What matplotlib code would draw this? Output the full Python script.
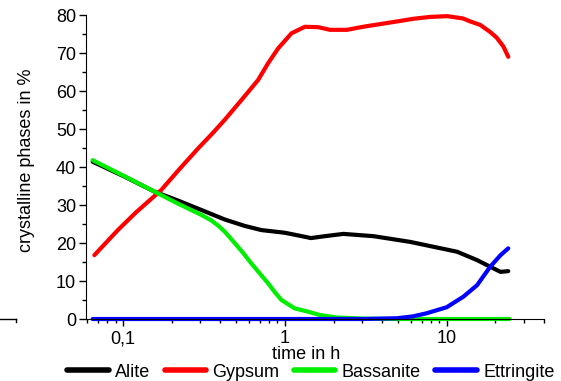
import matplotlib
matplotlib.use("Agg")
import matplotlib.pyplot as plt
from matplotlib.lines import Line2D
from matplotlib.ticker import FixedLocator, FuncFormatter, LogLocator, MultipleLocator

plt.rcParams['font.family'] = ['Liberation Sans', 'DejaVu Sans']
plt.rcParams['font.size'] = 13

# data (time in h, percent)
alite_t = [0.065, 0.102, 0.157, 0.218, 0.305, 0.425, 0.565, 0.717, 1.0, 1.24, 1.45, 1.77, 2.3, 3.53, 5.94, 8.3, 11.6, 15.4, 19.5, 21.5, 24.0]
alite_v = [41.4, 37.5, 33.5, 31.2, 28.7, 26.2, 24.5, 23.4, 22.7, 21.9, 21.3, 21.8, 22.4, 21.8, 20.3, 19.0, 17.7, 15.5, 13.3, 12.4, 12.6]

gyps_t = [0.0666, 0.093, 0.12, 0.172, 0.224, 0.29, 0.36, 0.425, 0.539, 0.684, 0.788, 0.909, 1.1, 1.33, 1.61, 1.9, 2.42, 3.04, 4.92, 6.2, 7.9, 10.07, 12.6, 14.0, 16.1, 18.6, 20.4, 22.4, 24.0]
gyps_v = [16.8, 23.4, 28.0, 33.9, 39.5, 44.8, 49.0, 52.4, 57.6, 62.9, 67.3, 71.2, 75.2, 76.9, 76.8, 76.1, 76.1, 76.9, 78.3, 79.0, 79.5, 79.7, 79.1, 78.3, 77.4, 75.5, 74.0, 71.7, 69.0]

bass_t = [0.065, 0.102, 0.157, 0.218, 0.305, 0.35, 0.387, 0.425, 0.49, 0.55, 0.622, 0.7, 0.788, 0.87, 0.954, 1.15, 1.4, 1.65, 2.09, 3.1, 5.0, 10.0, 24.4]
bass_v = [41.8, 37.6, 33.5, 30.4, 27.4, 26.0, 24.6, 23.0, 20.0, 17.5, 14.6, 12.0, 9.4, 7.0, 5.0, 2.8, 1.9, 1.05, 0.4, 0.1, 0.0, 0.0, 0.0]

ettr_t = [0.065, 1.0, 3.0, 4.92, 6.2, 7.5, 10.0, 12.7, 15.4, 18.6, 21.5, 24.0]
ettr_v = [0.0, 0.0, 0.0, 0.2, 0.7, 1.5, 3.1, 5.9, 8.9, 13.8, 16.8, 18.6]

names = ['Alite', 'Gypsum', 'Bassanite', 'Ettringite']
colors = ['#000000', '#ff0000', '#00ee00', '#0000ff']

fig = plt.figure(figsize=(5.61, 3.81), dpi=100)
ax = fig.add_axes([0.153, 0.1627, 0.817, 0.7979])

series = [(alite_t, alite_v), (gyps_t, gyps_v), (bass_t, bass_v), (ettr_t, ettr_v)]
for (t, v), n, c in zip(series, names, colors):
    ax.plot(t, v, color=c, lw=3, label=n, clip_on=False, solid_joinstyle='round', solid_capstyle='round')

ax.set_xscale('log')
ax.set_xlim(0.059, 40)
ax.set_ylim(0, 80)
ax.spines['top'].set_visible(False)
ax.spines['right'].set_visible(False)

ax.xaxis.set_major_locator(FixedLocator([0.1, 1, 10]))
ax.xaxis.set_major_formatter(FuncFormatter(lambda x, p: {0.1: '0,1', 1: '1', 10: '10'}.get(round(x, 3), '')))
ax.xaxis.set_minor_locator(LogLocator(base=10, subs=range(2, 10)))
ax.xaxis.set_minor_formatter(FuncFormatter(lambda x, p: ''))
ax.yaxis.set_major_locator(MultipleLocator(10))
ax.yaxis.set_minor_locator(MultipleLocator(5))

ax.tick_params(which='major', length=5, width=1, direction='out', pad=2)
ax.tick_params(axis='x', which='major', pad=3)
ax.tick_params(which='minor', length=3, width=1, direction='out')

ax.set_xlabel('time in h')
ax.xaxis.set_label_coords((306 - 86) / 458, -0.09)
ax.set_ylabel('crystalline phases in %')
ax.yaxis.set_label_coords(-0.111, 0.523)

leg = fig.legend(loc='center', bbox_to_anchor=(0.554, 0.0236), ncol=4, frameon=False,
                 handlelength=2.3, handletextpad=0.35, columnspacing=0.8, borderaxespad=0.0,
                 borderpad=0.0)
for l in leg.get_lines():
    l.set_linewidth(4)

# small stray line at left edge
fig.add_artist(Line2D([0, 16/561], [1-319/381, 1-319/381], color='black', lw=1))
fig.add_artist(Line2D([16/561, 16/561], [1-319/381, 1-322/381], color='black', lw=1))

fig.savefig('out.png', dpi=100)
